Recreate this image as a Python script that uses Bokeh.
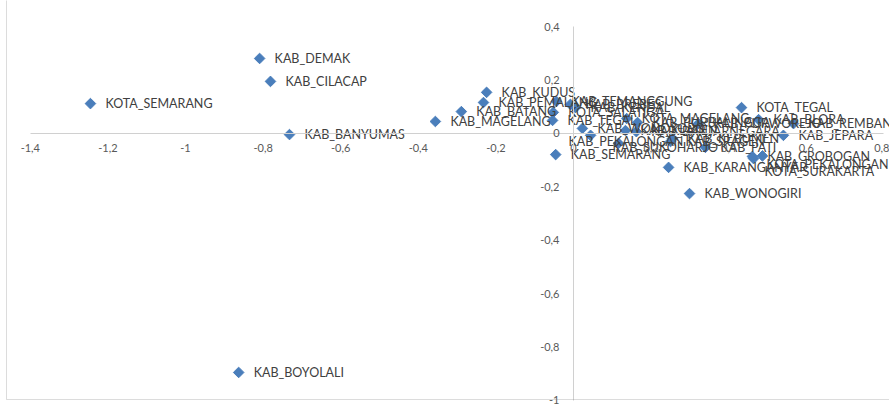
from bokeh.plotting import figure
from bokeh.models import (Range1d, FixedTicker, CustomJSTickFormatter, ColumnDataSource,
                          BoxAnnotation, LinearAxis)
from bokeh.core.properties import value
from bokeh.embed import file_html
from bokeh.resources import INLINE

# ---- data ----
names = ["KAB_CILACAP", "KAB_BANYUMAS", "KAB_PURBALINGGA", "KAB_BANJARNEGARA", "KAB_KEBUMEN",
         "KAB_PURWOREJO", "KAB_WONOSOBO", "KAB_MAGELANG", "KAB_BOYOLALI", "KAB_KLATEN",
         "KAB_SUKOHARJO", "KAB_WONOGIRI", "KAB_KARANGANYAR", "KAB_SRAGEN", "KAB_GROBOGAN",
         "KAB_BLORA", "KAB_REMBANG", "KAB_PATI", "KAB_KUDUS", "KAB_JEPARA",
         "KAB_DEMAK", "KAB_SEMARANG", "KAB_TEMANGGUNG", "KAB_KENDAL", "KAB_BATANG",
         "KAB_PEKALONGAN", "KAB_PEMALANG", "KAB_TEGAL", "KAB_BREBES", "KOTA_MAGELANG",
         "KOTA_SURAKARTA", "KOTA_SALATIGA", "KOTA_SEMARANG", "KOTA_PEKALONGAN", "KOTA_TEGAL"]
dim1 = [-0.781, -0.732, 0.165, 0.162, 0.255,
        0.322, 0.023, -0.356, -0.863, 0.134,
        0.116, 0.299, 0.245, 0.250, 0.461,
        0.477, 0.567, 0.340, -0.224, 0.541,
        -0.809, -0.046, -0.044, 0.005, -0.289,
        0.044, -0.232, -0.054, -0.008, 0.137,
        0.464, -0.052, -1.245, 0.487, 0.433]
dim2 = [0.195, -0.004, 0.041, 0.007, -0.019,
        0.037, 0.019, 0.045, -0.895, 0.011,
        -0.037, -0.225, -0.127, -0.030, -0.086,
        0.052, 0.037, -0.052, 0.154, -0.007,
        0.281, -0.079, 0.120, 0.097, 0.082,
        -0.007, 0.116, 0.049, 0.109, 0.056,
        -0.094, 0.079, 0.112, -0.084, 0.097]
x_ticks = [-1.4, -1.2, -1.0, -0.8, -0.6, -0.4, -0.2, 0.0, 0.2, 0.4, 0.6, 0.8]
y_ticks = [-1.0, -0.8, -0.6, -0.4, -0.2, 0.0, 0.2, 0.4]

# ---- label placement (style, pixels) ----
default_dx, default_dy = 15, 0
label_nudge = {
    "KAB_PEKALONGAN": (-22, 6),
    "KAB_SUKOHARJO": (-6, 4),
    "KOTA_PEKALONGAN": (4, 9),
    "KOTA_SURAKARTA": (11, 13),
}
dxs = [label_nudge.get(n, (default_dx, default_dy))[0] for n in names]
dys = [label_nudge.get(n, (default_dx, default_dy))[1] for n in names]

src = ColumnDataSource(dict(x=dim1, y=dim2, name=names, dx=dxs, dy=dys))

W, H = 889, 410
p = figure(width=W, height=H, output_backend="svg", toolbar_location=None,
           x_range=Range1d(-1.4768, 0.8144), y_range=Range1d(-1.0375, 0.4981),
           min_border=0, x_axis_location=None, y_axis_location=None)
p.grid.visible = False
p.outline_line_color = None
p.background_fill_color = "white"

fmt = CustomJSTickFormatter(code="var s = (Math.round(tick*10)/10).toString(); return s.replace('.', ',');")

axis_style = dict(axis_line_color="#d0d0d0", axis_line_width=1,
                  major_tick_line_color=None, minor_tick_line_color=None,
                  major_label_text_font="Lato", major_label_text_font_size="11px",
                  major_label_text_color="#595959")

xaxis = LinearAxis(fixed_location=0, ticker=FixedTicker(ticks=x_ticks), formatter=fmt,
                   bounds=(-1.4, 0.8), major_label_standoff=5, **axis_style)
yaxis = LinearAxis(fixed_location=0, ticker=FixedTicker(ticks=y_ticks), formatter=fmt,
                   bounds=(-1.0, 0.4), major_label_standoff=8, **axis_style)
p.add_layout(xaxis, "below")
p.add_layout(yaxis, "left")

border = BoxAnnotation(left=6, left_units="screen", top=11, top_units="screen",
                       right=W + 20, right_units="screen", bottom=H + 20, bottom_units="screen",
                       fill_alpha=0, line_color="#8c8c8c", line_width=1)
p.add_layout(border)

p.scatter("x", "y", source=src, marker="square", angle=0.7854, size=7.5,
          fill_color="#4a7ebb", line_color="#4a7ebb")
p.text("x", "y", text="name", source=src, x_offset="dx", y_offset="dy",
       text_baseline="middle", text_align="left", text_font=value("Lato"),
       text_font_size="12.5px", text_color="#404040")

open("out.html", "w").write(file_html(p, INLINE))
